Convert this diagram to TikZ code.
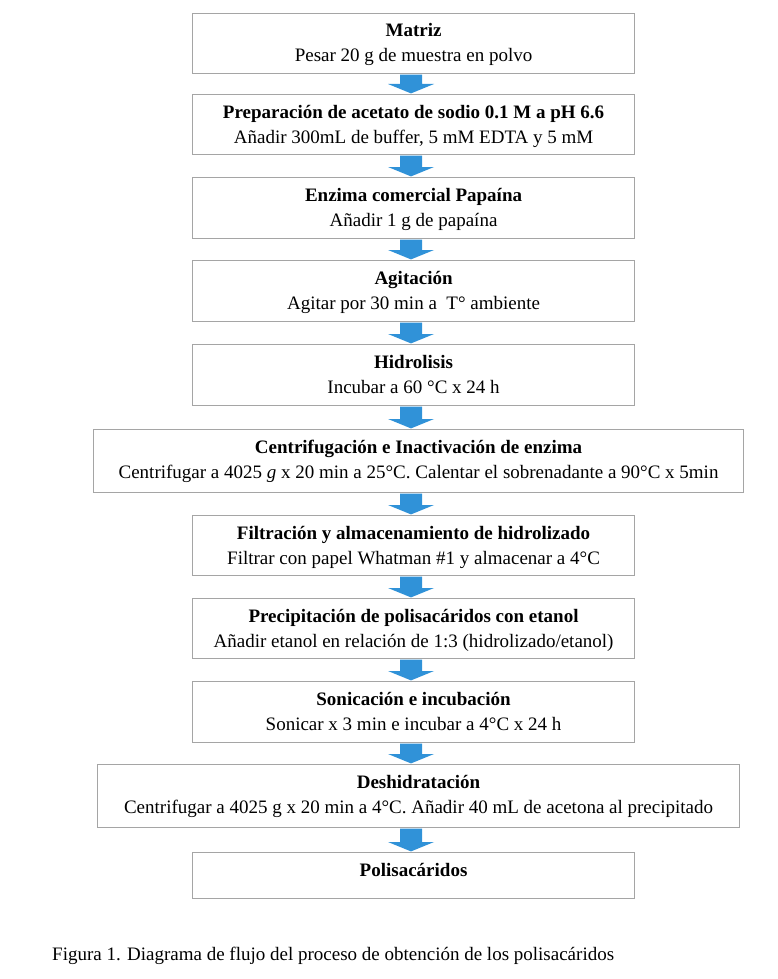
\documentclass[tikz,border=0pt]{standalone}
\usepackage{fontspec}
\setmainfont{Liberation Serif}
\usetikzlibrary{calc}
\definecolor{boxgray}{RGB}{165,165,165}
\definecolor{arrowblue}{RGB}{48,146,216}
\tikzset{
  stepbox/.style={draw=boxgray, line width=1.1pt, rectangle, inner sep=0pt},
  ttl/.style={anchor=base, inner sep=0pt, font=\fontsize{19}{22}\selectfont\bfseries},
  sub/.style={anchor=base, inner sep=0pt, font=\fontsize{19}{22}\selectfont},
  captext/.style={anchor=base west, inner sep=0pt, font=\fontsize{19}{22}\selectfont}
}
\newcommand\mkbox[7]{% name, left, top, right, bottom, title, sub
  \node[stepbox, anchor=north west, minimum width={#4-#2}, minimum height={#5-#3}] (#1) at (#2,-#3) {};
  \node[ttl] (#1t) at ($(#1.north)+(0,-24)$) {#6};
  \node[sub] (#1s) at ($(#1.north)+(0,-49)$) {#7};
}
\newcommand\blkarrow[2]{%
  \path (col |- #1.south) coordinate (#1a) (col |- #2.north) coordinate (#2b);
  \fill[arrowblue] ($(#1a)+(-11,-0.6)$) -- ($(#1a)+(11,-0.6)$) -- ($(#2b)+(11,10)$) -- ($(#2b)+(23,10)$) -- ($(#2b)+(0,0.6)$) -- ($(#2b)+(-23,10)$) -- ($(#2b)+(-11,10)$) -- cycle;
}
\begin{document}
\begin{tikzpicture}[x=1pt,y=1pt]
\useasboundingbox (0,0) rectangle (777,-979);
\fill[white] (0,0) rectangle (777,-979);
\coordinate (col) at (411,0);
\mkbox{b1}{192}{13}{634}{73}{Matriz}{Pesar 20 g de muestra en polvo}
\mkbox{b2}{192}{94}{634}{154}{Preparación de acetato de sodio 0.1 M a pH 6.6}{Añadir 300mL de buffer, 5 mM EDTA y 5 mM}
\mkbox{b3}{192}{177}{634}{238}{Enzima comercial Papaína}{Añadir 1 g de papaína}
\mkbox{b4}{192}{260}{634}{321}{Agitación}{Agitar por 30 min a \ T° ambiente}
\mkbox{b5}{192}{344}{634}{405}{Hidrolisis}{Incubar a 60 °C x 24 h}
\mkbox{b6}{93}{429}{743}{492}{Centrifugación e Inactivación de enzima}{Centrifugar a 4025 \textit{g} x 20 min a 25°C. Calentar el sobrenadante a 90°C x 5min}
\mkbox{b7}{192}{515}{634}{575}{Filtración y almacenamiento de hidrolizado}{Filtrar con papel Whatman \#1 y almacenar a 4°C}
\mkbox{b8}{192}{598}{634}{658}{Precipitación de polisacáridos con etanol}{Añadir etanol en relación de 1:3 (hidrolizado/etanol)}
\mkbox{b9}{192}{681}{634}{742}{Sonicación e incubación}{Sonicar x 3 min e incubar a 4°C x 24 h}
\mkbox{b10}{97}{764}{739}{827}{Deshidratación}{Centrifugar a 4025 g x 20 min a 4°C. Añadir 40 mL de acetona al precipitado}
\node[stepbox, anchor=north west, minimum width=442, minimum height=46] (b11) at (192,-852) {};
\node[ttl] (b11t) at ($(b11.north)+(0,-24)$) {Polisacáridos};
\blkarrow{b1}{b2}
\blkarrow{b2}{b3}
\blkarrow{b3}{b4}
\blkarrow{b4}{b5}
\blkarrow{b5}{b6}
\blkarrow{b6}{b7}
\blkarrow{b7}{b8}
\blkarrow{b8}{b9}
\blkarrow{b9}{b10}
\blkarrow{b10}{b11}
\node[captext] (caption) at (52,-960) {Figura 1. Diagrama de flujo del proceso de obtención de los polisacáridos};
\end{tikzpicture}
\end{document}
